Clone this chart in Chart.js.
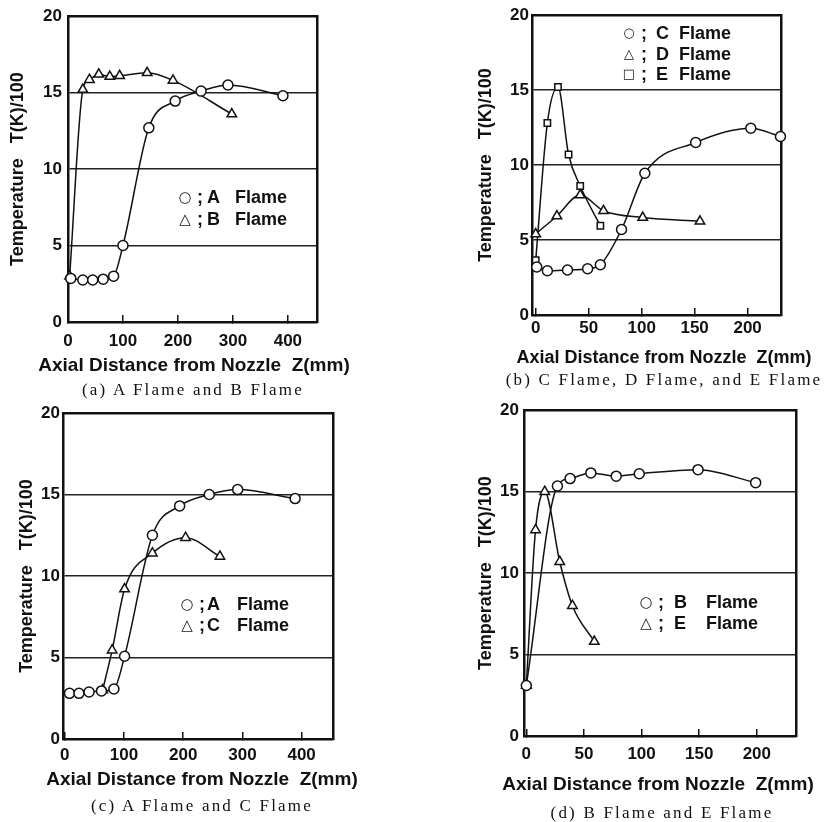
<!DOCTYPE html>
<html><head><meta charset="utf-8">
<script src="https://cdn.jsdelivr.net/npm/chart.js@4.4.1/dist/chart.umd.min.js"></script>
<style>
html,body{margin:0;padding:0;background:#fff;}
#page{position:relative;width:828px;height:822px;overflow:hidden;background:#fff;}
canvas{position:absolute;}
.cap{position:absolute;width:420px;text-align:center;font-family:'Liberation Serif','DejaVu Serif',serif;font-size:17px;letter-spacing:2.2px;line-height:18px;color:#111;white-space:pre;}
.xt{position:absolute;width:420px;text-align:center;font-family:'Liberation Sans',Arial,sans-serif;font-weight:bold;font-size:19px;line-height:22px;color:#111;white-space:pre;}
.lg{position:absolute;font-family:'Liberation Sans',Arial,sans-serif;font-weight:bold;font-size:18px;line-height:20px;color:#111;white-space:pre;transform:translateY(-50%);}
.sym{position:absolute;font-family:'DejaVu Sans',sans-serif;font-weight:normal;font-size:15px;line-height:20px;color:#111;transform:translate(-50%,-50%);}
</style></head>
<body><div id="page">
<canvas id="ca" width="414" height="405" style="left:0;top:0"></canvas>
<canvas id="cb" width="414" height="405" style="left:414px;top:0"></canvas>
<canvas id="cc" width="414" height="427" style="left:0;top:395px"></canvas>
<canvas id="cd" width="414" height="427" style="left:414px;top:395px"></canvas>
</div>
<script>
// ---------- tick labels ----------
const yTicks = [0, 5, 10, 15, 20];
const xTicksA = [0, 100, 200, 300, 400];
const xTicksB = [0, 50, 100, 150, 200];
const xTicksC = [0, 100, 200, 300, 400];
const xTicksD = [0, 50, 100, 150, 200];

const xTitle = 'Axial Distance from Nozzle  Z(mm)';
const yTitle = 'Temperature   T(K)/100';

// ---------- panel (a): A flame & B flame ----------
const a_A_x = [5, 27, 45, 64, 83, 100, 147, 195, 242, 291, 391];
const a_A_y = [2.85, 2.75, 2.75, 2.8, 3.0, 5.0, 12.7, 14.45, 15.1, 15.5, 14.8];
const a_B_x = [3, 27, 39, 56, 76, 94, 144, 191, 298];
const a_B_y = [3.0, 15.2, 15.85, 16.2, 16.05, 16.1, 16.3, 15.8, 13.6];

// ---------- panel (b): C, D, E flames ----------
const b_C_x = [1, 11, 30, 49, 61, 81, 103, 151, 203, 231];
const b_C_y = [3.2, 2.95, 3.0, 3.08, 3.35, 5.7, 9.45, 11.5, 12.45, 11.9];
const b_D_x = [0, 20, 42, 64, 101, 155];
const b_D_y = [5.4, 6.6, 8.0, 6.95, 6.5, 6.25];
const b_E_x = [0, 11, 21, 31, 42, 61];
const b_E_y = [3.65, 12.8, 15.2, 10.7, 8.6, 5.95];

// ---------- panel (c): A flame & C flame ----------
const c_A_x = [8, 24, 41, 62, 83, 101, 148, 194, 244, 292, 389];
const c_A_y = [2.8, 2.8, 2.88, 2.95, 3.07, 5.08, 12.5, 14.3, 15.0, 15.3, 14.75];
const c_C_x = [64, 80, 101, 148, 204, 262];
const c_C_y = [3.0, 5.45, 9.2, 11.4, 12.35, 11.2];

// ---------- panel (d): B flame & E flame ----------
const d_B_x = [0, 27, 38, 56, 78, 98, 149, 199];
const d_B_y = [3.1, 15.35, 15.8, 16.15, 15.95, 16.1, 16.35, 15.55];
const d_E_x = [0, 8, 16, 29, 40, 59];
const d_E_y = [3.1, 12.65, 15.0, 10.7, 8.0, 5.8];

// ---------- legend / caption text ----------
const captions = ['(a) A Flame and B Flame', '(b) C Flame, D Flame, and E Flame',
                  '(c) A Flame and C Flame', '(d) B Flame and E Flame'];
const legA = [['○', 'A'], ['△', 'B']];
const legB = [['○', 'C'], ['△', 'D'], ['□', 'E']];
const legC = [['○', 'A'], ['△', 'C']];
const legD = [['○', 'B'], ['△', 'E']];

Chart.defaults.font.family = "'Liberation Sans', Arial, sans-serif";
Chart.defaults.color = '#111';

function series(xs, ys, style) {
  const r = style === 'rect' ? 4.5 : (style === 'triangle' ? 5.5 : 5);
  return {
    data: xs.map((x, i) => ({x: x, y: ys[i]})),
    showLine: true,
    cubicInterpolationMode: 'monotone',
    borderColor: '#111', borderWidth: 1.5, fill: false,
    pointStyle: style, pointRadius: r, pointHoverRadius: r,
    pointBackgroundColor: '#fff', pointBorderColor: '#111', pointBorderWidth: 1.5,
    clip: false
  };
}

const TL = -7; // x tick marks point into the plot
function makePanel(id, p) {
  const cv = document.getElementById(id);
  const W = cv.width, H = cv.height;
  const lh = 18 * 1.2;
  new Chart(cv, {
    type: 'line',
    data: {datasets: p.sets},
    options: {
      responsive: false, animation: false, devicePixelRatio: 1,
      layout: {padding: {left: 0, top: p.t, right: W - p.r, bottom: 0}},
      plugins: {legend: {display: false}, tooltip: {enabled: false}},
      scales: {
        x: {
          type: 'linear', position: 'bottom', min: p.xmin, max: p.xmax,
          afterBuildTicks: s => { s.ticks = p.xticks.map(v => ({value: v})); },
          afterFit: s => { s.height = H - p.b; },
          ticks: {padding: p.xtp - TL, maxRotation: 0, autoSkip: false, font: {size: 17, weight: 'bold'}},
          grid: {display: true, drawOnChartArea: false, drawTicks: true, tickLength: TL,
                 color: '#111', lineWidth: 1.5},
          border: {display: true, color: '#111', width: 2.5},
          title: {display: false}
        },
        y: {
          type: 'linear', position: 'left', min: 0, max: 20,
          afterBuildTicks: s => { s.ticks = yTicks.map(v => ({value: v})); },
          afterFit: s => { s.width = p.l; },
          ticks: {padding: p.ytp, font: {size: 17, weight: 'bold'}},
          grid: {drawTicks: false, lineWidth: 1.4,
                 color: c => (c.tick && c.tick.value > 0 && c.tick.value < 20) ? '#222' : 'rgba(0,0,0,0)'},
          border: {display: true, color: '#111', width: 2.5},
          title: {display: true, text: yTitle, font: {size: 18, weight: 'bold'},
                  padding: {top: p.ytx - lh / 2, bottom: 0}}
        },
        x2: {
          type: 'linear', position: 'top', min: p.xmin, max: p.xmax,
          ticks: {display: false}, grid: {display: false, drawTicks: false},
          border: {display: true, color: '#111', width: 2.5},
          afterFit: s => { s.height = 0; }
        },
        y2: {
          type: 'linear', position: 'right', min: 0, max: 20,
          ticks: {display: false}, grid: {display: false, drawTicks: false},
          border: {display: true, color: '#111', width: 2.5},
          afterFit: s => { s.width = 0; }
        }
      }
    }
  });
}

makePanel('ca', {l: 68, t: 15, r: 317, b: 322, xmin: 0, xmax: 453, xticks: xTicksA,
  xtp: 9, ytp: 6, ytx: 18,
  sets: [series(a_A_x, a_A_y, 'circle'), series(a_B_x, a_B_y, 'triangle')]});
makePanel('cb', {l: 118, t: 15, r: 367, b: 315, xmin: -3.5, xmax: 231.5, xticks: xTicksB,
  xtp: 3, ytp: 3, ytx: 72,
  sets: [series(b_C_x, b_C_y, 'circle'), series(b_D_x, b_D_y, 'triangle'), series(b_E_x, b_E_y, 'rect')]});
makePanel('cc', {l: 63, t: 18, r: 333, b: 344, xmin: -3, xmax: 453, xticks: xTicksC,
  xtp: 6, ytp: 3, ytx: 27,
  sets: [series(c_A_x, c_A_y, 'circle'), series(c_C_x, c_C_y, 'triangle')]});
makePanel('cd', {l: 110, t: 13, r: 382, b: 341, xmin: -2, xmax: 234, xticks: xTicksD,
  xtp: 8, ytp: 5, ytx: 72,
  sets: [series(d_B_x, d_B_y, 'circle'), series(d_E_x, d_E_y, 'triangle')]});

// ---------- captions, x titles & legends (HTML text) ----------
const page = document.getElementById('page');
function addDiv(cls, text, left, top) {
  const d = document.createElement('div');
  d.className = cls; d.textContent = text;
  d.style.left = left + 'px'; d.style.top = top + 'px';
  page.appendChild(d);
  return d;
}
const capPos = [[193, 390], [664, 380], [202, 806], [662, 813]];
captions.forEach((t, i) => addDiv('cap', t, capPos[i][0] - 210, capPos[i][1] - 9));
const xtPos = [[194, 365, 19], [664, 357, 18], [202, 779, 19], [658, 784, 19]];
xtPos.forEach(q => { const d = addDiv('xt', xTitle, q[0] - 210, q[1] - 11); d.style.fontSize = q[2] + 'px'; });

function addLegend(rows, symX, semiX, letX, flameX, y0, dy, symSize) {
  rows.forEach((r, i) => {
    const y = y0 + i * dy;
    const s = addDiv('sym', r[0], symX, y);
    s.style.fontSize = symSize + 'px';
    addDiv('lg', ';', semiX - 3, y);
    addDiv('lg', r[1], letX, y);
    addDiv('lg', 'Flame', flameX, y);
  });
}
addLegend(legA, 185, 200, 207, 235, 197, 22, 15);
addLegend(legB, 629, 644, 656, 679, 33, 20.5, 13);
addLegend(legC, 187, 202, 207, 237, 604, 21, 15);
addLegend(legD, 646, 661, 674, 706, 602, 21, 15);
</script>
</body></html>
